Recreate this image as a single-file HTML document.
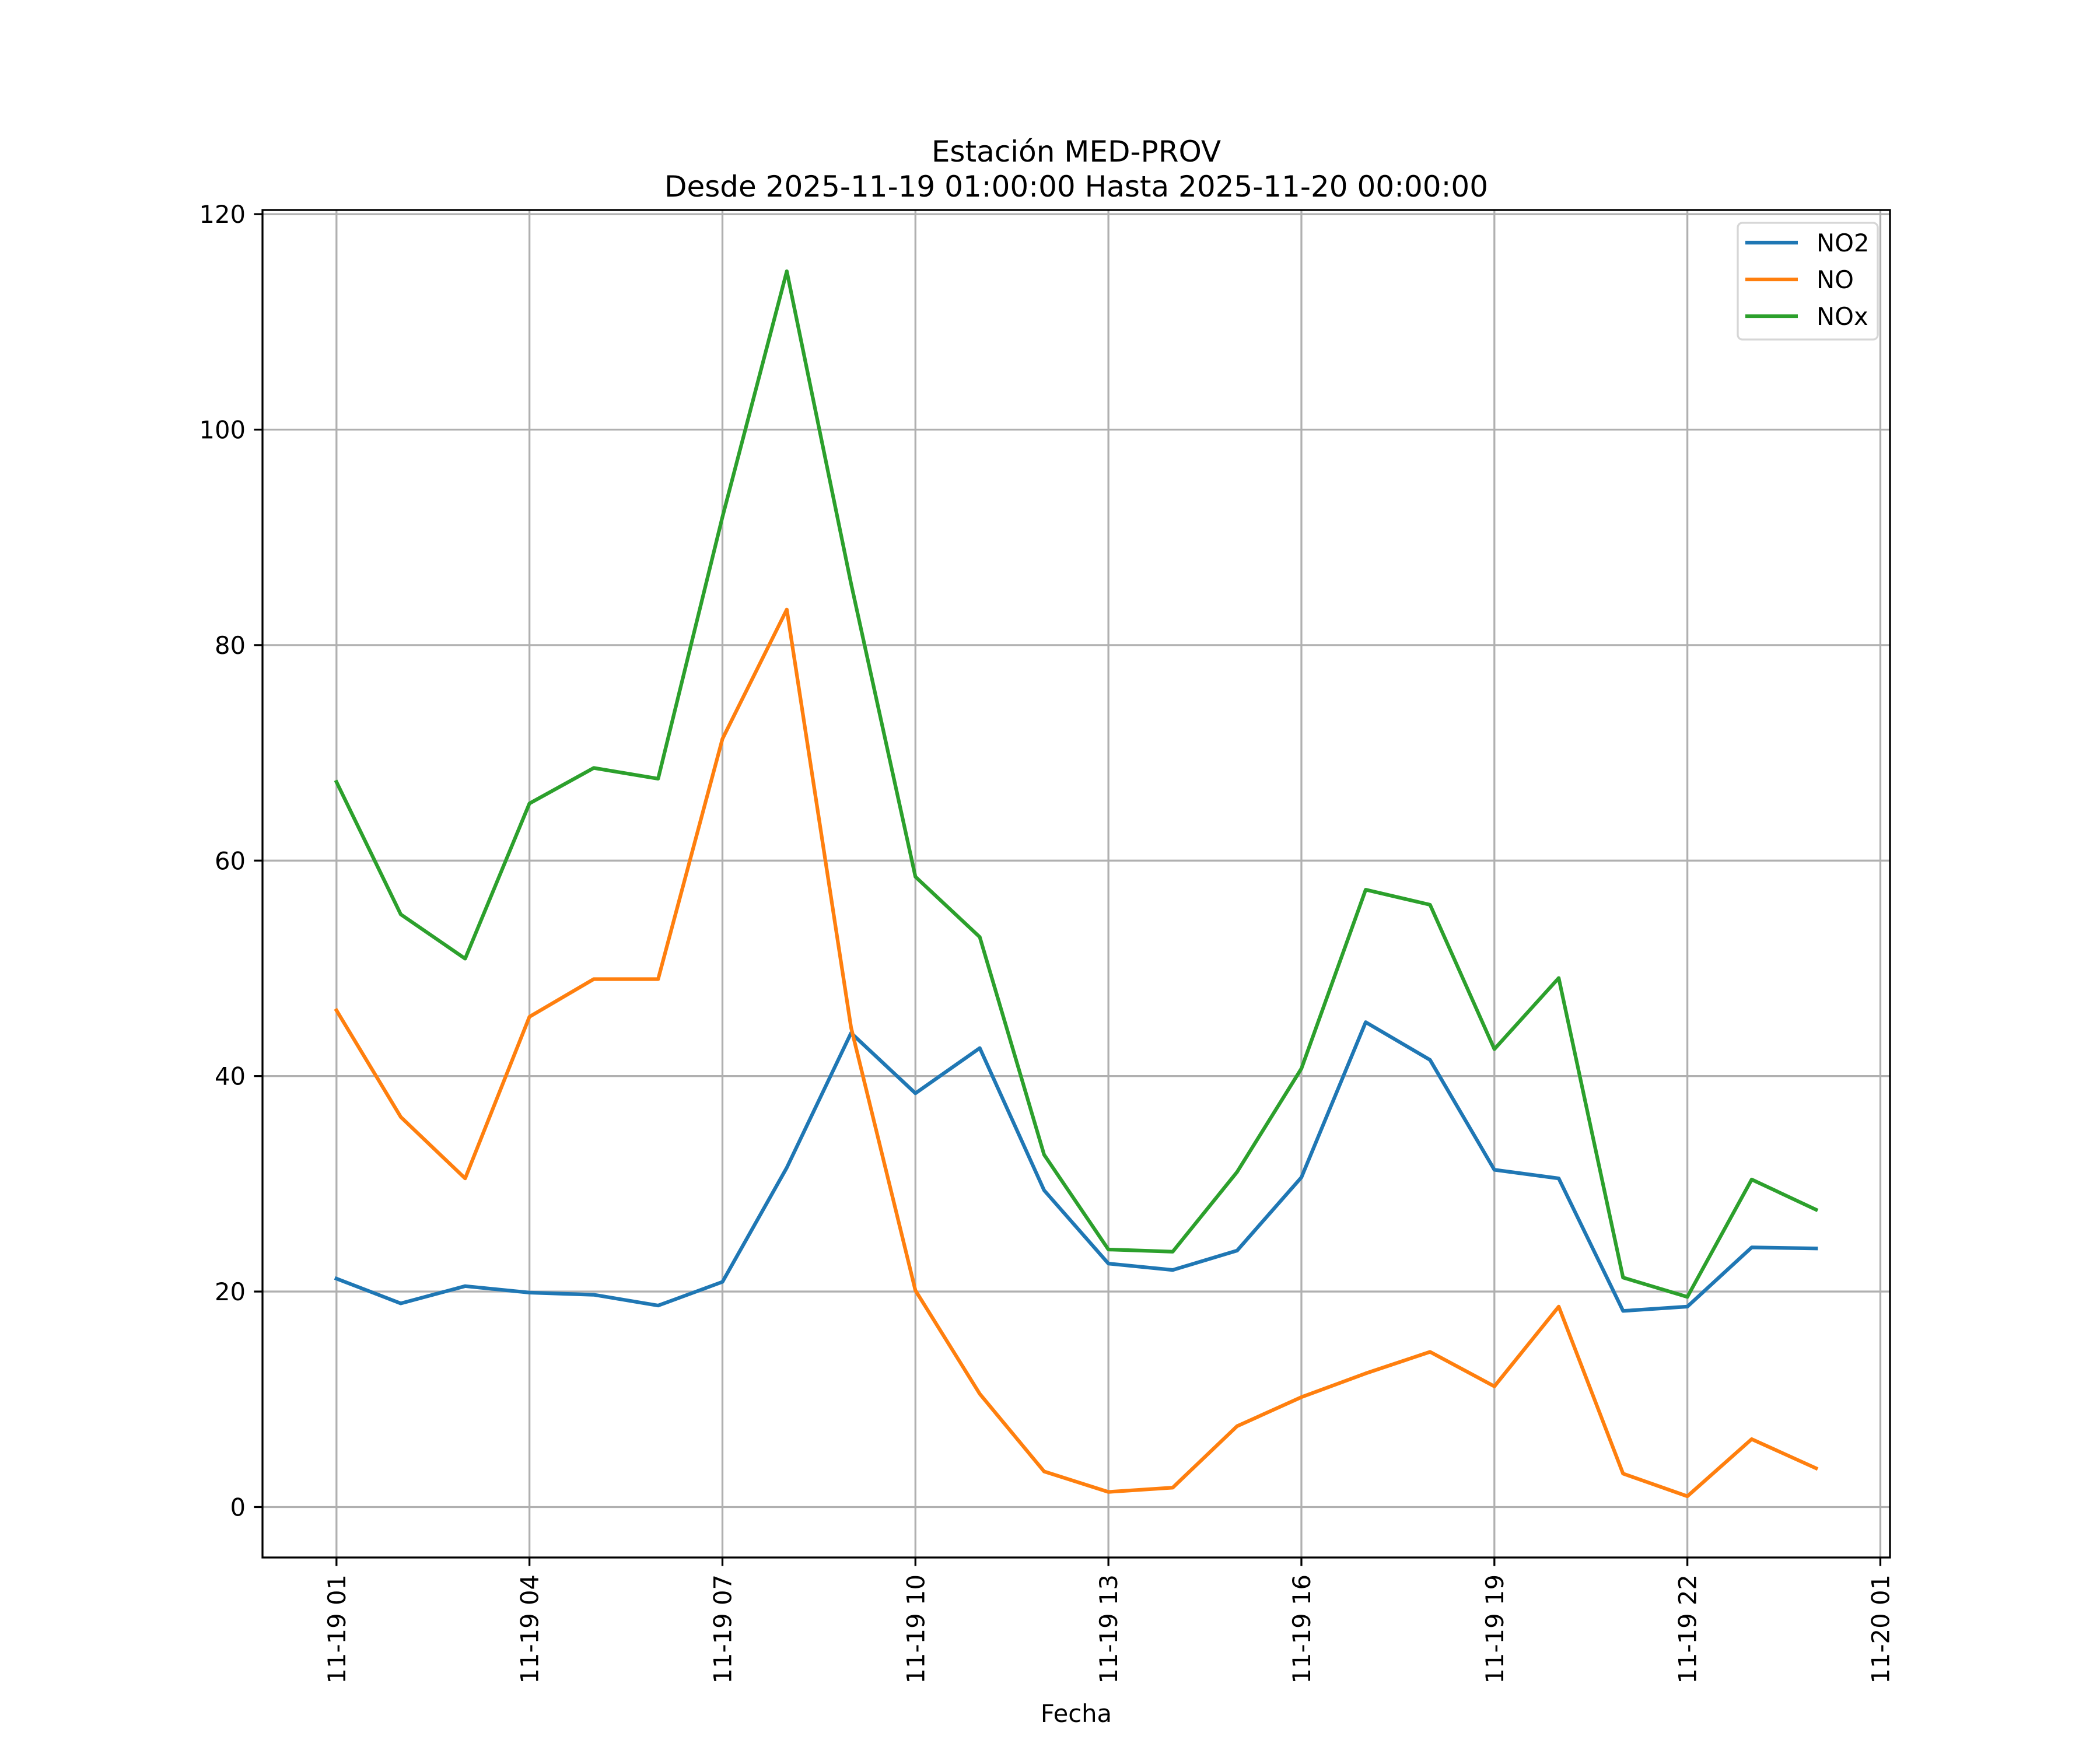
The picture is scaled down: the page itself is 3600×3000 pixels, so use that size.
<!DOCTYPE html>
<html><head><meta charset="utf-8"><style>
html,body{margin:0;padding:0;background:#fff;}
svg{display:block;font-family:"DejaVu Sans","Liberation Sans",sans-serif;}
</style></head><body>
<svg id="chart" width="3600" height="3000" viewBox="0 0 3600 3000" xmlns="http://www.w3.org/2000/svg">
<rect width="3600" height="3000" fill="#fff"/>
<text x="1845" y="277" font-size="50" text-anchor="middle">Estación MED-PROV</text>
<text x="1845" y="337" font-size="50" text-anchor="middle">Desde 2025-11-19 01:00:00 Hasta 2025-11-20 00:00:00</text>
<g id="grid"></g>
<g id="series"></g>
<rect x="450" y="360" width="2790" height="2310" fill="none" stroke="#000" stroke-width="3.3"/>
<g id="ticks"></g>
<text x="1845" y="2952" font-size="41.7" text-anchor="middle">Fecha</text>
<g id="legend"></g>
</svg>
<script>
const hours = [1,2,3,4,5,6,7,8,9,10,11,12,13,14,15,16,17,18,19,20,21,22,23,24];
const no2 = [21.2,18.9,20.5,19.9,19.7,18.7,20.9,31.5,44.0,38.4,42.6,29.4,22.6,22.0,23.8,30.6,45.0,41.5,31.3,30.5,18.2,18.6,24.1,24.0];
const no = [46.1,36.2,30.5,45.5,49.0,49.0,71.3,83.3,44.5,20.1,10.5,3.3,1.4,1.8,7.5,10.2,12.4,14.4,11.2,18.6,3.1,1.0,6.3,3.6];
const nox = [67.3,55.0,50.9,65.3,68.6,67.6,91.9,114.7,85.7,58.5,52.9,32.7,23.9,23.7,31.1,40.7,57.3,55.9,42.5,49.1,21.3,19.5,30.4,27.6];
const yTicks = [0,20,40,60,80,100,120];
const xTickHours = [1,4,7,10,13,16,19,22,25];
const xTickLabels = ["11-19 01","11-19 04","11-19 07","11-19 10","11-19 13","11-19 16","11-19 19","11-19 22","11-20 01"];
const seriesNames = ["NO2","NO","NOx"];
const seriesColors = ["#1f77b4","#ff7f0e","#2ca02c"];

const L=450,R=3240,T=360,B=2670;
const allV = no2.concat(no, nox);
const vMin = Math.min(...allV), vMax = Math.max(...allV), vR = vMax - vMin;
const y0 = vMin - 0.05*vR, y1 = vMax + 0.05*vR;
const hMin = hours[0], hMax = hours[hours.length-1], hR = hMax - hMin;
const x0 = hMin - 0.05*hR, x1 = hMax + 0.05*hR;
function X(h){return L + (h - x0)/(x1 - x0)*(R - L);}
function Y(v){return B - (v - y0)/(y1 - y0)*(B - T);}
const NS="http://www.w3.org/2000/svg";
function mk(tag, attrs, parent){const e=document.createElementNS(NS,tag);for(const k in attrs)e.setAttribute(k,attrs[k]);parent.appendChild(e);return e;}
const grid=document.getElementById('grid'), ticks=document.getElementById('ticks'), ser=document.getElementById('series'), leg=document.getElementById('legend');

yTicks.forEach(v=>{
  const y=Y(v);
  const g=mk('line',{x1:L,x2:R,y1:y,y2:y,stroke:'#b0b0b0','stroke-width':3.3},grid);
  
  
  const t=mk('line',{x1:L-14.6,x2:L,y1:y,y2:y,stroke:'#000','stroke-width':3.3},ticks);
  
  
  const lb=mk('text',{x:L-29,y:y+15,'font-size':41.7,'text-anchor':'end'},ticks);
  lb.textContent=String(v);
  
  
});
xTickHours.forEach((h,i)=>{
  const x=X(h);
  const g=mk('line',{x1:x,x2:x,y1:T,y2:B,stroke:'#b0b0b0','stroke-width':3.3},grid);
  
  
  const t=mk('line',{x1:x,x2:x,y1:B,y2:B+14.6,stroke:'#000','stroke-width':3.3},ticks);
  
  
  const lb=mk('text',{x:0,y:0,'font-size':41.7,'text-anchor':'end',transform:`translate(${x+15},${B+29}) rotate(-90)`},ticks);
  lb.textContent=xTickLabels[i];
  
  
});
[no2,no,nox].forEach((vals,si)=>{
  const pts=vals.map((v,i)=>X(hours[i]).toFixed(1)+','+Y(v).toFixed(1)).join(' ');
  const p=mk('polyline',{points:pts,fill:'none',stroke:seriesColors[si],'stroke-width':6.25,'stroke-linejoin':'round','stroke-linecap':'square'},ser);
  
  
});
const box=mk('rect',{x:2979,y:382,width:240,height:200,rx:8,fill:'#fff','fill-opacity':0.8,stroke:'#d6d6d6','stroke-width':3.3},leg);


seriesNames.forEach((n,i)=>{
  const y=416+i*63;
  const l=mk('line',{x1:2992,x2:3082,y1:y,y2:y,stroke:seriesColors[i],'stroke-width':6.25},leg);
  
  
  const t=mk('text',{x:3114,y:y+15,'font-size':41.7},leg);
  t.textContent=n;
  
  
});
</script>
</body></html>
